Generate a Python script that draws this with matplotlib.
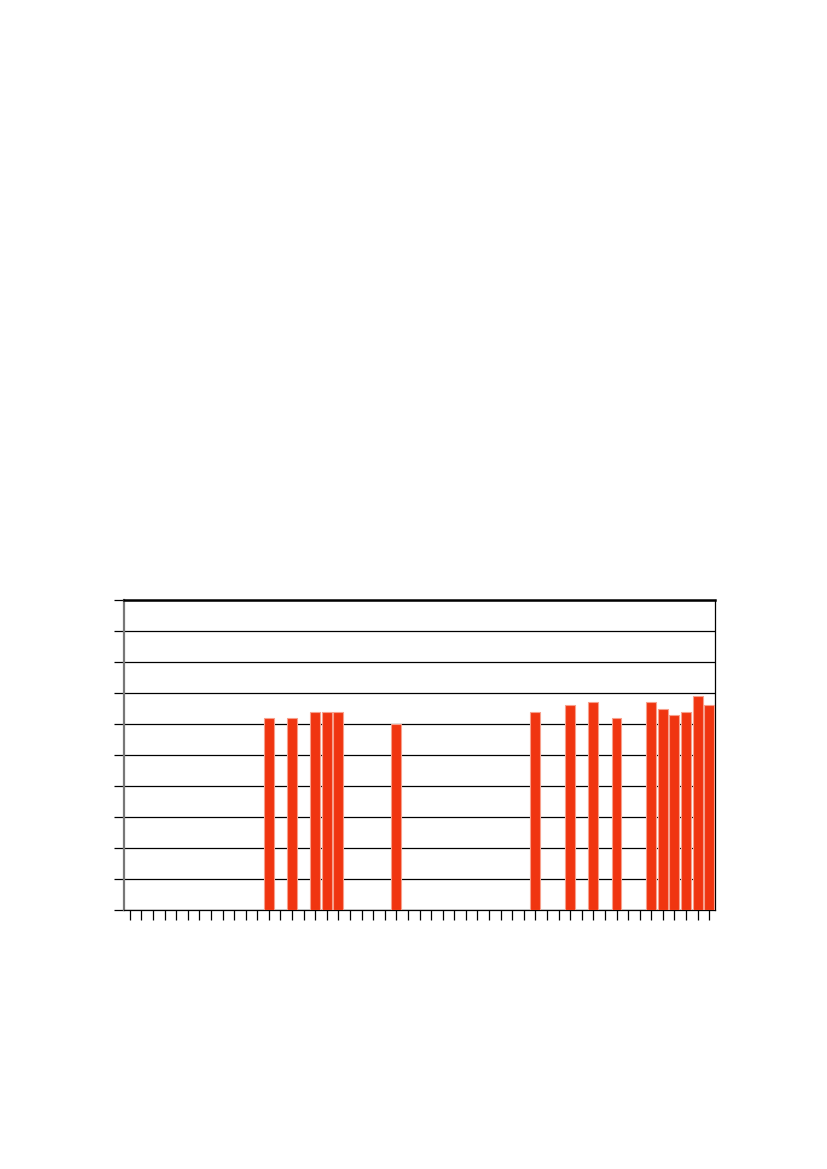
import matplotlib
matplotlib.use("Agg")
import matplotlib.pyplot as plt
import numpy as np

n_categories = 51
bar_index = [12, 14, 16, 17, 18, 23, 35, 38, 40, 42, 45, 46, 47, 48, 49, 50]
bar_value = [62, 62, 64, 64, 64, 60, 64, 66, 67, 62, 67, 65, 63, 64, 69, 66]
y_ticks = [0, 10, 20, 30, 40, 50, 60, 70, 80, 90, 100]

fig = plt.figure(figsize=(8.27, 11.69), dpi=100)
ax = fig.add_axes([124/827, 1 - 910/1169, 591/827, 310/1169])

ax.bar(bar_index, bar_value, width=0.86, color='#F03510',
       edgecolor='#F7A08C', linewidth=0.8, zorder=3)

ax.set_xlim(-0.5, n_categories - 0.5)
ax.set_ylim(0, 100)
ax.set_yticks(y_ticks)
ax.set_xticks(np.arange(n_categories))
ax.set_yticklabels([])
ax.set_xticklabels([])
ax.yaxis.grid(True, color='black', linewidth=0.9, zorder=1)
ax.set_axisbelow(True)

ax.tick_params(axis='x', direction='out', length=7, width=0.9, color='black')
ax.tick_params(axis='y', direction='out', length=7, width=0.9, color='black')

ax.spines['left'].set_color('#777777')
ax.spines['left'].set_linewidth(1.6)
ax.spines['top'].set_color('black')
ax.spines['top'].set_linewidth(1.8)
ax.spines['right'].set_color('black')
ax.spines['right'].set_linewidth(0.9)
ax.spines['bottom'].set_color('black')
ax.spines['bottom'].set_linewidth(0.9)

fig.savefig('out.png', dpi=100)
